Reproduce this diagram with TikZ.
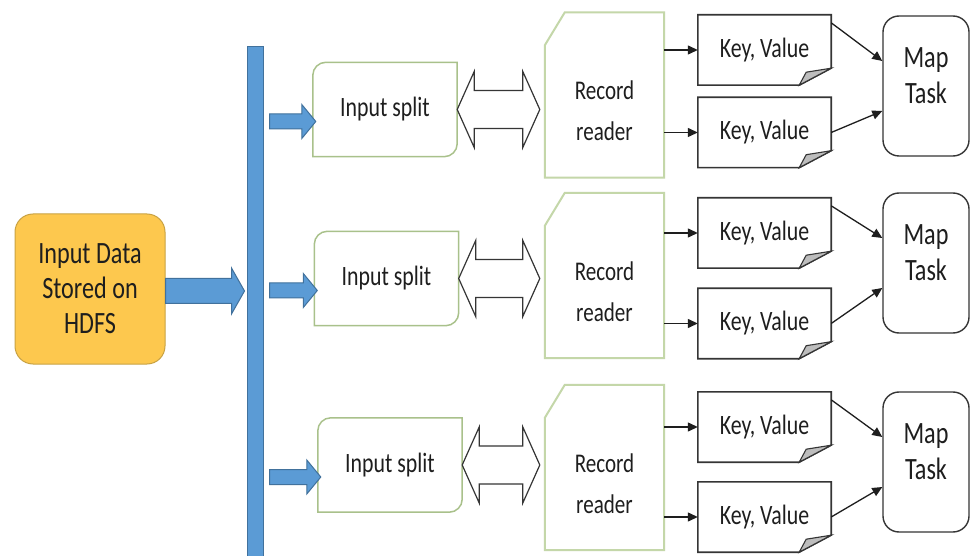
\documentclass[tikz,border=0pt]{standalone}
\usepackage{fontspec}
\setmainfont{Carlito}[FakeStretch=0.78]
\usetikzlibrary{arrows.meta,calc}

\definecolor{datafill}{HTML}{FDC84E}
\definecolor{dataedge}{HTML}{C9A243}
\definecolor{blueface}{HTML}{5B9BD5}
\definecolor{blueedge}{HTML}{41719C}
\definecolor{splitgreen}{HTML}{A9C18B}
\definecolor{readergreen}{HTML}{C4D7A9}
\definecolor{inkgrey}{HTML}{353535}
\definecolor{foldgrey}{HTML}{BDBDBD}
\definecolor{textink}{HTML}{1E1E1E}

% horizontal block arrow: style, tail, tip, half shaft, half head, head length
\newcommand{\blockarrow}[6]{%
  \draw[#1] let \p1=#2, \p2=#3 in
    (\x1,\y2+#4) -- (\x2-#6,\y2+#4) -- (\x2-#6,\y2+#5) -- (\x2,\y2)
    -- (\x2-#6,\y2-#5) -- (\x2-#6,\y2-#4) -- (\x1,\y2-#4) -- cycle;}
% white double arrow between two points
\newcommand{\dblarrow}[2]{%
  \draw[dblline] let \p1=#1, \p2=#2 in
    (\x1,\y1) -- (\x1+17pt,\y1+38pt) -- (\x1+17pt,\y1+19pt) -- (\x2-17pt,\y1+19pt)
    -- (\x2-17pt,\y1+38pt) -- (\x2,\y1) -- (\x2-17pt,\y1-38pt) -- (\x2-17pt,\y1-19pt)
    -- (\x1+17pt,\y1-19pt) -- (\x1+17pt,\y1-38pt) -- cycle;}

\begin{document}
\begin{tikzpicture}[x=1pt,y=-1pt,
    txt/.style={text=textink, font=\fontsize{28pt}{34pt}\selectfont},
    databox/.style={txt, draw=dataedge, fill=datafill, line width=1pt, rounded corners=18pt,
      minimum width=150pt, minimum height=150pt, align=center,
      font=\fontsize{31pt}{35pt}\selectfont},
    bluearr/.style={draw=blueedge, fill=blueface, line width=1pt},
    splitbox/.style={txt, minimum width=144pt, minimum height=94pt},
    splitline/.style={draw=splitgreen, line width=1.5pt},
    dblline/.style={draw=inkgrey, fill=white, line width=1.2pt},
    readerbox/.style={minimum width=119pt, minimum height=165pt, inner sep=0pt},
    readerline/.style={draw=readergreen, line width=2pt},
    rtext/.style={txt, align=center, font=\fontsize{27pt}{41pt}\selectfont},
    kvbox/.style={txt, minimum width=133pt, minimum height=70pt},
    kvline/.style={draw=inkgrey, line width=1.6pt},
    mapbox/.style={draw=inkgrey, line width=1.4pt, rounded corners=16pt,
      minimum width=86pt, minimum height=140pt},
    mtext/.style={txt, align=center, font=\fontsize{31pt}{36pt}\selectfont},
    blk/.style={draw=textink, line width=1.3pt, -{Triangle[length=10pt,width=9pt]}}]

\fill[white] (0,0) rectangle (970,556);
\useasboundingbox (0,0) rectangle (970,556);

\node[databox] (data) at (90,289) {Input Data\\Stored on\\HDFS};
\node[bluearr, minimum width=16pt, minimum height=510pt, inner sep=0pt] (bar) at (255,302) {};
\blockarrow{bluearr}{(data.east)}{($(bar.west |- data.east)+(-2pt,-2pt)$)}{12.5pt}{23pt}{13pt}

\foreach \r/\sx/\sy/\ry/\ka/\kb/\my in {1/385/109.5/95/50/132.5/86,
    2/386.5/278.5/275.5/233/323.5/263, 3/390/465/467.5/427/517/462}{
  % input split with two rounded corners
  \node[splitbox] (split\r) at (\sx,\sy) {Input split};
  \draw[splitline] ([yshift=-13pt]split\r.north west) arc[start angle=180,end angle=90,radius=13pt]
    -- (split\r.north east) -- ([yshift=13pt]split\r.south east)
    arc[start angle=0,end angle=-90,radius=13pt] -- (split\r.south west) -- cycle;
  \blockarrow{bluearr}{($(bar.east |- split\r.west)+(6pt,-12pt)$)}{($(split\r.west)+(3pt,-12pt)$)}{7.5pt}{17pt}{14pt}

  % record reader, snipped corner
  \node[readerbox] (reader\r) at (604.5,\ry) {};
  \draw[readerline] ([yshift=-33pt]reader\r.north west) -- ([xshift=20pt]reader\r.north west)
    -- (reader\r.north east) -- (reader\r.south east) -- (reader\r.south west) -- cycle;
  \node[rtext] (rlabel\r) at ([yshift=-16pt]reader\r.center) {Record\\reader};
  \dblarrow{(split\r.east)}{($(reader\r.west |- split\r.east)+(-5pt,0)$)}

  % key, value pairs with folded corner
  \foreach \k/\ky in {a/\ka, b/\kb}{
    \node[kvbox] (kv\k\r) at (764.5,\ky) {Key, Value};
    \draw[kvline] (kv\k\r.north west) -- (kv\k\r.north east) -- ([yshift=17pt]kv\k\r.south east)
      -- ([xshift=-32pt]kv\k\r.south east) -- (kv\k\r.south west) -- cycle;
    \draw[kvline, fill=foldgrey, line width=1.1pt] ([xshift=-32pt]kv\k\r.south east)
      -- ([yshift=17pt]kv\k\r.south east) -- ([xshift=-25pt,yshift=13pt]kv\k\r.south east) -- cycle;
    \draw[blk] (reader\r.east |- kv\k\r.west) -- (kv\k\r.west);
  }

  % map task
  \node[mapbox] (map\r) at (926,\my) {};
  \node[mtext] (mlabel\r) at ([yshift=10pt]map\r.center) {Map\\Task};
  \draw[blk] ([yshift=-8pt]kva\r.north east) -- ([yshift=25pt]map\r.west);
  \draw[blk] (kvb\r.east) -- ([yshift=-25pt]map\r.west);
}
\end{tikzpicture}
\end{document}
